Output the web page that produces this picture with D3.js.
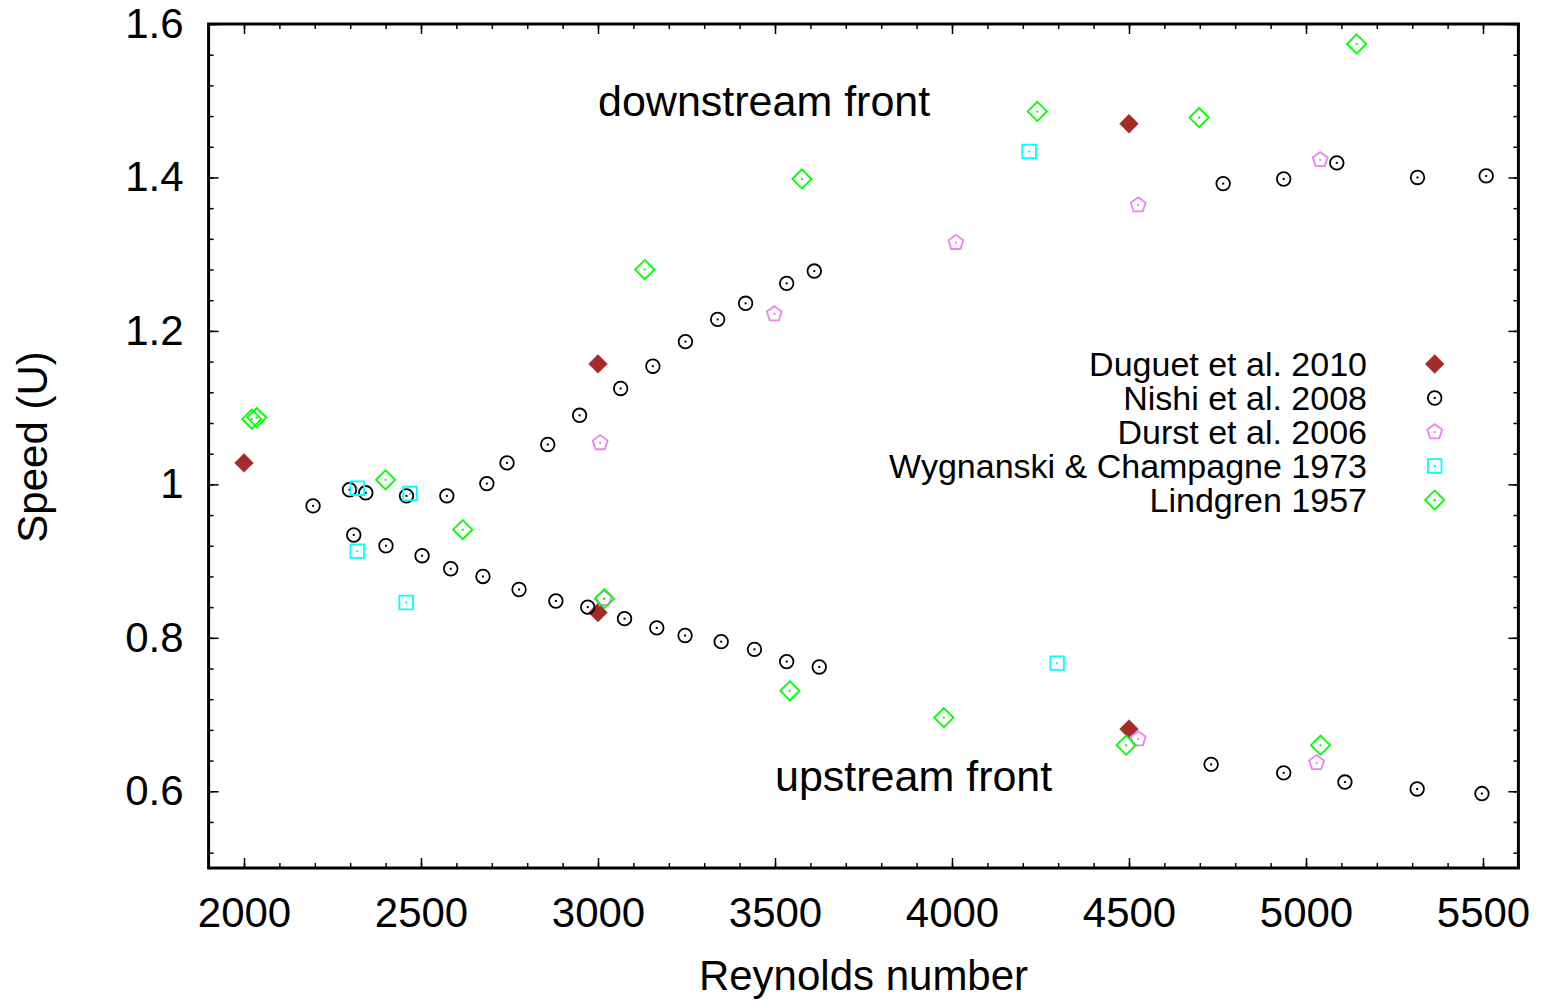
<!DOCTYPE html>
<html>
<head>
<meta charset="utf-8">
<script src="https://cdn.jsdelivr.net/npm/d3@7"></script>
<style>
  html, body { margin: 0; padding: 0; background: #fff; }
  svg { display: block; font-family: "Liberation Sans", Arial, Helvetica, sans-serif; }
</style>
</head>
<body>
<svg id="chart" width="1544" height="1001"></svg>
<script>
// Front speeds of turbulent puffs/slugs versus Reynolds number
const duguetRe = [2000, 3000, 3000, 4500, 4500];
const duguetU  = [1.028, 1.157, 0.833, 1.470, 0.681];

const nishiRe = [2195, 2298, 2344, 2459, 2573, 2686, 2743, 2858, 2948, 3064, 3155, 3247, 3338, 3417, 3533, 3611, 4766, 4937, 5087, 5315, 5509,
                 2310, 2401, 2503, 2584, 2675, 2777, 2881, 2971, 3075, 3166, 3246, 3348, 3442, 3533, 3625, 4732, 4937, 5110, 5314, 5497];
const nishiU  = [0.972, 0.993, 0.989, 0.985, 0.985, 1.001, 1.028, 1.052, 1.090, 1.125, 1.154, 1.186, 1.215, 1.236, 1.262, 1.278, 1.392, 1.398, 1.419, 1.400, 1.402,
                 0.934, 0.920, 0.907, 0.890, 0.880, 0.863, 0.848, 0.840, 0.825, 0.813, 0.803, 0.795, 0.785, 0.769, 0.762, 0.635, 0.624, 0.612, 0.603, 0.597];

const durstRe = [3006, 3017, 3498, 4011, 4526, 4526, 5030, 5040];
const durstU  = [1.054, 0.851, 1.222, 1.315, 1.364, 0.668, 0.637, 1.423];

const wygRe = [2320, 2469, 2320, 2458, 4218, 4297];
const wygU  = [0.995, 0.988, 0.913, 0.846, 1.434, 0.767];

const lindRe = [2022, 2036, 2400, 2618, 3018, 3132, 3542, 3576, 3977, 4241, 4492, 4698, 5041, 5143];
const lindU  = [1.085, 1.087, 1.006, 0.941, 0.851, 1.280, 0.731, 1.398, 0.696, 1.486, 0.660, 1.478, 0.660, 1.574];

const xTickValues = [2000, 2500, 3000, 3500, 4000, 4500, 5000, 5500];
const xTickLabels = ["2000", "2500", "3000", "3500", "4000", "4500", "5000", "5500"];
const yTickValues = [0.6, 0.8, 1.0, 1.2, 1.4, 1.6];
const yTickLabels = ["0.6", "0.8", "1", "1.2", "1.4", "1.6"];

const seriesNames = ["Duguet et al. 2010", "Nishi et al. 2008", "Durst et al. 2006", "Wygnanski & Champagne 1973", "Lindgren 1957"];

// Layout
const plotL = 208.6, plotR = 1518.4, plotT = 24, plotB = 868;
const svg = d3.select("#chart");

const x = d3.scaleLinear().domain([1900, 5600]).range([plotL, plotR]);
const y = d3.scaleLinear().domain([0.5, 1.6]).range([plotB, plotT]);

// Marker shapes
function diamondPath(r) { return `M0,${-r}L${r},0L0,${r}L${-r},0Z`; }
function squarePath(h) { return `M${-h},${-h}H${h}V${h}H${-h}Z`; }
function pentagonPath(r) {
  const pts = d3.range(5).map(i => {
    const a = -Math.PI / 2 + i * 2 * Math.PI / 5;
    return [r * Math.cos(a), r * Math.sin(a)];
  });
  return "M" + pts.map(p => p[0].toFixed(2) + "," + p[1].toFixed(2)).join("L") + "Z";
}

const styles = [
  { color: "#a52a2a", path: diamondPath(9.4), fill: true, dot: false },
  { color: "#000000", circle: 6.8, fill: false, dot: true },
  { color: "#ee82ee", path: pentagonPath(7.8), fill: false, dot: true },
  { color: "#00ffff", path: squarePath(6.8), fill: false, dot: true },
  { color: "#00ff00", path: diamondPath(9.6), fill: false, dot: true }
];

function drawMarker(g, st) {
  if (st.circle) {
    g.append("circle").attr("r", st.circle)
      .attr("fill", "none").attr("stroke", st.color).attr("stroke-width", 1.8);
  } else {
    g.append("path").attr("d", st.path)
      .attr("fill", st.fill ? st.color : "none")
      .attr("stroke", st.color)
      .attr("stroke-width", st.fill ? 0.5 : 1.8)
      .attr("stroke-linejoin", "miter");
  }
  if (st.dot) {
    g.append("rect").attr("x", -1).attr("y", -1).attr("width", 2).attr("height", 2)
      .attr("fill", st.color);
  }
}

// Axes: ticks point inward on all four sides
function styleAxis(g) {
  g.select(".domain").remove();
  g.selectAll(".tick line").attr("stroke", "#000").attr("stroke-width", 1.5);
  g.selectAll(".tick text").attr("fill", "#000").attr("font-size", 42)
    .attr("font-family", '"Liberation Sans", Arial, Helvetica, sans-serif');
}

const xMinor = d3.range(1900, 5601, 100);
const yMinor = d3.range(13, 41).map(k => k * 0.04);

// minor ticks
svg.append("g").attr("transform", `translate(0,${plotB})`)
  .call(d3.axisBottom(x).tickValues(xMinor).tickSizeInner(-5).tickSizeOuter(0).tickFormat(""))
  .call(styleAxis);
svg.append("g").attr("transform", `translate(0,${plotT})`)
  .call(d3.axisTop(x).tickValues(xMinor).tickSizeInner(-5).tickSizeOuter(0).tickFormat(""))
  .call(styleAxis);
svg.append("g").attr("transform", `translate(${plotL},0)`)
  .call(d3.axisLeft(y).tickValues(yMinor).tickSizeInner(-5).tickSizeOuter(0).tickFormat(""))
  .call(styleAxis);
svg.append("g").attr("transform", `translate(${plotR},0)`)
  .call(d3.axisRight(y).tickValues(yMinor).tickSizeInner(-5).tickSizeOuter(0).tickFormat(""))
  .call(styleAxis);

// major ticks with labels
svg.append("g").attr("transform", `translate(0,${plotB})`)
  .call(d3.axisBottom(x).tickValues(xTickValues).tickSizeInner(-10).tickSizeOuter(0).tickPadding(29)
    .tickFormat((d, i) => xTickLabels[i]))
  .call(styleAxis);
svg.append("g").attr("transform", `translate(0,${plotT})`)
  .call(d3.axisTop(x).tickValues(xTickValues).tickSizeInner(-10).tickSizeOuter(0).tickFormat(""))
  .call(styleAxis);
svg.append("g").attr("transform", `translate(${plotL},0)`)
  .call(d3.axisLeft(y).tickValues(yTickValues).tickSizeInner(-10).tickSizeOuter(0).tickPadding(25)
    .tickFormat((d, i) => yTickLabels[i]))
  .call(styleAxis);
svg.append("g").attr("transform", `translate(${plotR},0)`)
  .call(d3.axisRight(y).tickValues(yTickValues).tickSizeInner(-10).tickSizeOuter(0).tickFormat(""))
  .call(styleAxis);

// frame
svg.append("rect")
  .attr("x", plotL).attr("y", plotT)
  .attr("width", plotR - plotL).attr("height", plotB - plotT)
  .attr("fill", "none").attr("stroke", "#000").attr("stroke-width", 3);

// axis titles
svg.append("text").attr("x", (plotL + plotR) / 2).attr("y", 990)
  .attr("text-anchor", "middle").attr("font-size", 42).text("Reynolds number");
svg.append("text").attr("transform", "translate(47,447) rotate(-90)")
  .attr("text-anchor", "middle").attr("font-size", 42).text("Speed (U)");

// annotations
svg.append("text").attr("x", x(3000)).attr("y", y(1.5)).attr("dy", "0.35em")
  .attr("font-size", 43).text("downstream front");
svg.append("text").attr("x", x(3500)).attr("y", y(0.62)).attr("dy", "0.35em")
  .attr("font-size", 43).text("upstream front");

// data points
const series = [
  [duguetRe, duguetU],
  [nishiRe, nishiU],
  [durstRe, durstU],
  [wygRe, wygU],
  [lindRe, lindU]
];

series.forEach(([re, u], si) => {
  const pts = re.map((r, i) => ({ re: r, u: u[i] }));
  const g = svg.append("g");
  g.selectAll("g.pt").data(pts).join("g")
    .attr("class", "pt")
    .attr("transform", d => `translate(${x(d.re)},${y(d.u)})`)
    .each(function () { drawMarker(d3.select(this), styles[si]); });
});

// legend
const legend = svg.append("g");
seriesNames.forEach((name, i) => {
  const ly = 364 + i * 34;
  legend.append("text").attr("x", 1367).attr("y", ly).attr("dy", "0.35em")
    .attr("text-anchor", "end").attr("font-size", 34).text(name);
  const mg = legend.append("g").attr("transform", `translate(1434.7,${ly})`);
  drawMarker(mg, styles[i]);
});
</script>
</body>
</html>
